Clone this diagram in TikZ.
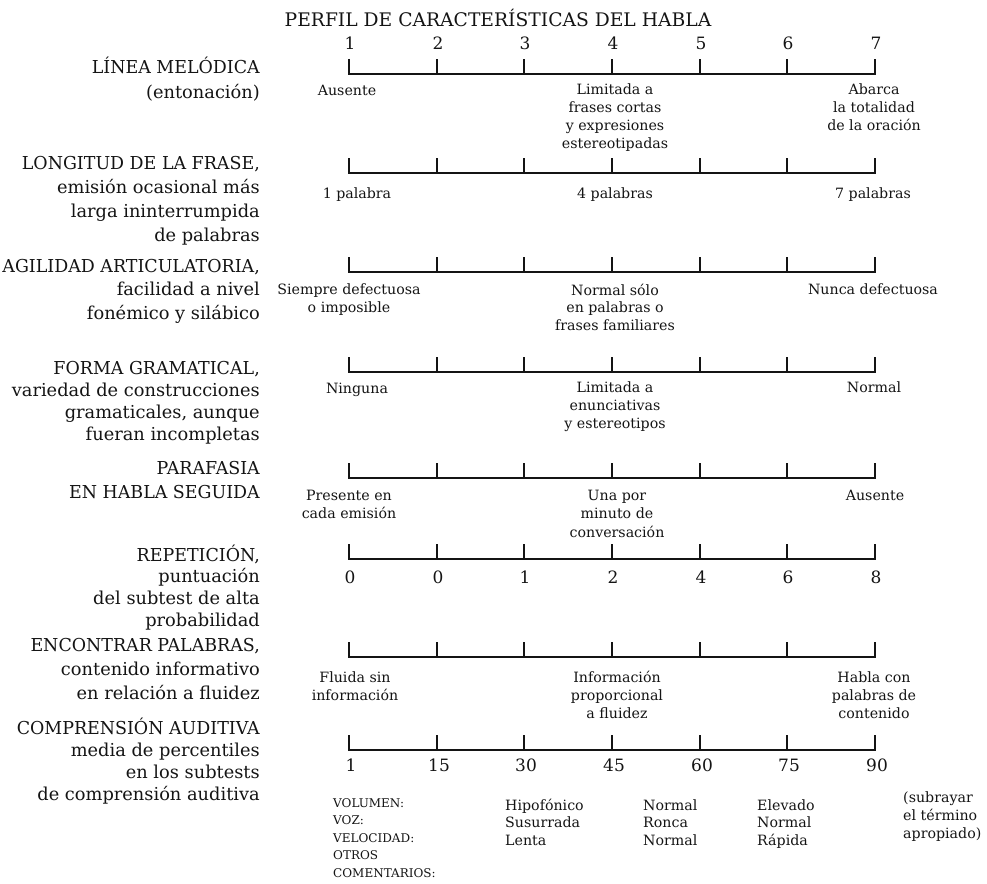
\documentclass[tikz,border=0pt]{standalone}
\usepackage{fontspec}
\setmainfont{DejaVu Serif}
\newfontfamily\capshead[FakeStretch=0.98]{DejaVu Serif}
\usetikzlibrary{calc}
\begin{document}
\begin{tikzpicture}[x=1pt,y=-1pt,
  inkcol/.style={draw=black!92},
  scalebar/.style={inkcol, line width=1.8pt, line join=miter},
  tickline/.style={inkcol, line width=1.5pt},
  rowlabel/.style={anchor=base east, inner sep=0pt, text=black!92,
    font=\fontsize{17.8}{22}\selectfont},
  endlabel/.style={anchor=base, inner sep=0pt, text=black!92,
    font=\fontsize{14.2}{17}\selectfont},
  scalenum/.style={anchor=base, inner sep=0pt, text=black!92,
    font=\fontsize{17}{20}\selectfont},
  notelabel/.style={anchor=base west, inner sep=0pt, text=black!92,
    font=\fontsize{14.2}{17}\selectfont},
  capsnote/.style={anchor=base west, inner sep=0pt, text=black!92,
    font=\fontsize{12}{14}\selectfont},
  titletext/.style={anchor=base, inner sep=0pt, text=black!92,
    font=\fontsize{18.7}{22}\selectfont}
]
\useasboundingbox (0,0) rectangle (987,883);

% title
\node[titletext] (title) at (498,27) {PERFIL DE CARACTERÍSTICAS DEL HABLA};

% the eight rating scales: bracket ends and inner ticks
\foreach \r/\y in {1/74, 2/173, 3/272, 4/372, 5/478, 6/559, 7/657, 8/750} {
  \foreach \x [count=\k] in {349,437,524,612,700,787,875} {
    \coordinate (a\r-\k) at ({\x},{\y});
    \coordinate (t\r-\k) at ({\x},{\y-15});
  }
  \draw[scalebar] (t\r-1) -- (a\r-1) -- (a\r-7) -- (t\r-7);
  \foreach \k in {2,...,6} \draw[tickline] (a\r-\k) -- (t\r-\k);
}

% scale numbers above the first scale
\foreach \n [count=\k] in {1,2,3,4,5,6,7}
  \node[scalenum] (n0-\k) at ($(t1-\k)+(1,-9)$) {\n};

% row headings
\foreach \t [count=\k from 0] in {{\capshead LÍNEA MELÓDICA}, {(entonación)}}
  \node[rowlabel] (h1-\k) at (260,{74+24*\k}) {\t};
\foreach \t [count=\k from 0] in {{\capshead LONGITUD DE LA FRASE,}, emisión ocasional más, larga ininterrumpida, de palabras}
  \node[rowlabel] (h2-\k) at (260,{169+24*\k}) {\t};
\foreach \t [count=\k from 0] in {{\capshead AGILIDAD ARTICULATORIA,}, facilidad a nivel, fonémico y silábico}
  \node[rowlabel] (h3-\k) at (260,{272+23.5*\k}) {\t};
\foreach \t [count=\k from 0] in {{\capshead FORMA GRAMATICAL,}, variedad de construcciones, {gramaticales, aunque}, fueran incompletas}
  \node[rowlabel] (h4-\k) at (260,{374+22*\k}) {\t};
\foreach \t [count=\k from 0] in {{\capshead PARAFASIA}, {\capshead EN HABLA SEGUIDA}}
  \node[rowlabel] (h5-\k) at (260,{474+24*\k}) {\t};
\foreach \t [count=\k from 0] in {{\capshead REPETICIÓN,}, puntuación, del subtest de alta, probabilidad}
  \node[rowlabel] (h6-\k) at (260,{561+21.7*\k}) {\t};
\foreach \t [count=\k from 0] in {{\capshead ENCONTRAR PALABRAS,}, contenido informativo, en relación a fluidez}
  \node[rowlabel] (h7-\k) at (260,{651+24*\k}) {\t};
\foreach \t [count=\k from 0] in {{\capshead COMPRENSIÓN AUDITIVA}, media de percentiles, en los subtests, de comprensión auditiva}
  \node[rowlabel] (h8-\k) at (260,{734+22.3*\k}) {\t};

% anchor descriptions under the scales
% row 1
\node[endlabel] (d1a) at (347,95) {Ausente};
\foreach \t [count=\k from 0] in {Limitada a, frases cortas, y expresiones, estereotipadas}
  \node[endlabel] (d1b-\k) at (615,{94+18.3*\k}) {\t};
\foreach \t [count=\k from 0] in {Abarca, la totalidad, de la oración}
  \node[endlabel] (d1c-\k) at (874,{94+18.3*\k}) {\t};
% row 2
\node[endlabel] (d2a) at (357,198) {1 palabra};
\node[endlabel] (d2b) at (615,198) {4 palabras};
\node[endlabel] (d2c) at (873,198) {7 palabras};
% row 3
\foreach \t [count=\k from 0] in {Siempre defectuosa, o imposible}
  \node[endlabel] (d3a-\k) at (349,{294+18*\k}) {\t};
\foreach \t [count=\k from 0] in {Normal sólo, en palabras o, frases familiares}
  \node[endlabel] (d3b-\k) at (615,{295+17.8*\k}) {\t};
\node[endlabel] (d3c) at (873,294) {Nunca defectuosa};
% row 4
\node[endlabel] (d4a) at (357,393) {Ninguna};
\foreach \t [count=\k from 0] in {Limitada a, enunciativas, y estereotipos}
  \node[endlabel] (d4b-\k) at (615,{392+18*\k}) {\t};
\node[endlabel] (d4c) at (874,392) {Normal};
% row 5
\foreach \t [count=\k from 0] in {Presente en, cada emisión}
  \node[endlabel] (d5a-\k) at (349,{500+18*\k}) {\t};
\foreach \t [count=\k from 0] in {Una por, minuto de, conversación}
  \node[endlabel] (d5b-\k) at (617,{500+18.5*\k}) {\t};
\node[endlabel] (d5c) at (875,500) {Ausente};
% row 6: subtest scores
\foreach \n [count=\k] in {0,0,1,2,4,6,8}
  \node[scalenum] (n6-\k) at ($(a6-\k)+(1,24)$) {\n};
% row 7
\foreach \t [count=\k from 0] in {Fluida sin, información}
  \node[endlabel] (d7a-\k) at (355,{682+18*\k}) {\t};
\foreach \t [count=\k from 0] in {Información, proporcional, a fluidez}
  \node[endlabel] (d7b-\k) at (617,{682+18*\k}) {\t};
\foreach \t [count=\k from 0] in {Habla con, palabras de, contenido}
  \node[endlabel] (d7c-\k) at (874,{682+18*\k}) {\t};
% row 8: percentiles
\foreach \n [count=\k] in {1,15,30,45,60,75,90}
  \node[scalenum] (n8-\k) at ($(a8-\k)+(2,21)$) {\n};

% voice quality notes
\foreach \t [count=\k from 0] in {VOLUMEN:, VOZ:, VELOCIDAD:, OTROS, COMENTARIOS:}
  \node[capsnote] (v0-\k) at (333,{807+17.5*\k}) {\t};
\foreach \t [count=\k from 0] in {Hipofónico, Susurrada, Lenta}
  \node[notelabel] (v1-\k) at (505,{810+17.5*\k}) {\t};
\foreach \t [count=\k from 0] in {Normal, Ronca, Normal}
  \node[notelabel] (v2-\k) at (643,{810+17.5*\k}) {\t};
\foreach \t [count=\k from 0] in {Elevado, Normal, Rápida}
  \node[notelabel] (v3-\k) at (757,{810+17.5*\k}) {\t};
\foreach \t [count=\k from 0] in {{(subrayar}, {el término}, {apropiado)}}
  \node[notelabel] (v4-\k) at (903,{802+18*\k}) {\t};
\end{tikzpicture}
\end{document}
